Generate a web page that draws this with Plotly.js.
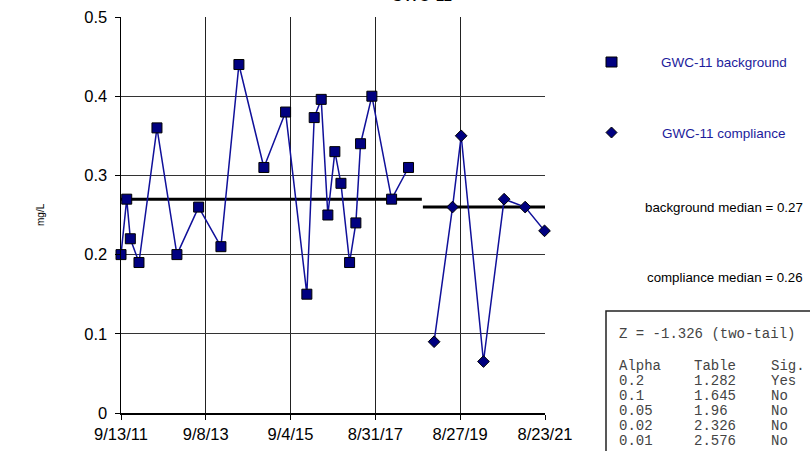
<!DOCTYPE html>
<html>
<head>
<meta charset="utf-8">
<script src="https://cdn.plot.ly/plotly-3.0.1.min.js"></script>
<style>html,body{margin:0;padding:0;background:#fff;}#chart{width:810px;height:451px;}</style>
</head>
<body>
<div id="chart"></div>
<script>
// ---- data ----
const chartTitle = 'GWC-11';
const bgName = 'GWC-11 background';
const cmpName = 'GWC-11 compliance';
const bgDates = ['2011-09-13','2011-11-01','2011-12-02','2012-02-14','2012-07-17','2013-01-04','2013-07-09','2014-01-16','2014-06-19','2015-01-19','2015-07-24','2016-01-22','2016-03-25','2016-05-24','2016-07-20','2016-09-18','2016-11-09','2017-01-22','2017-03-17','2017-04-26','2017-08-01','2018-01-17','2018-06-11'];
const bgValues = [0.2,0.27,0.22,0.19,0.36,0.2,0.26,0.21,0.44,0.31,0.38,0.15,0.373,0.396,0.25,0.33,0.29,0.19,0.24,0.34,0.40,0.27,0.31];
const cmpDates = ['2019-01-16','2019-06-23','2019-09-05','2020-03-14','2020-09-07','2021-03-06','2021-08-19'];
const cmpValues = [0.09,0.26,0.35,0.065,0.27,0.26,0.23];
const bgMedian = 0.27;
const cmpMedian = 0.26;
const bgMedianSpan = ['2011-09-13','2018-10-03'];
const cmpMedianSpan = ['2018-10-12','2021-08-23'];
const tickDates = ['2011-09-13','2013-09-08','2015-09-04','2017-08-31','2019-08-27','2021-08-23'];
const tickLabels = ['9/13/11','9/8/13','9/4/15','8/31/17','8/27/19','8/23/21'];
const yTicks = [0,0.1,0.2,0.3,0.4,0.5];
const yLabels = ['0','0.1','0.2','0.3','0.4','0.5'];
const yTitle = 'mg/L';
const bgMedianText = 'background median = 0.27';
const cmpMedianText = 'compliance median = 0.26';
const zText = 'Z = -1.326 (two-tail)';
const statsHeader = ['Alpha','Table','Sig.'];
const alphaVals = ['0.2','0.1','0.05','0.02','0.01'];
const tableVals = ['1.282','1.645','1.96','2.326','2.576'];
const sigVals = ['Yes','No','No','No','No'];

// ---- layout helpers (pixel -> paper) ----
const L = 121, R = 545, T = 17, B = 413, W = 810, H = 451;
const px = p => (p - L) / (R - L);
const py = p => (B - p) / (B - T);

const navy = '#000080';
const lineBlue = '#10109a';

const traces = [
  {x: bgMedianSpan, y: [bgMedian, bgMedian], type: 'scatter', mode: 'lines',
   line: {color: '#000', width: 3}, showlegend: false, hoverinfo: 'skip', cliponaxis: false},
  {x: cmpMedianSpan, y: [cmpMedian, cmpMedian], type: 'scatter', mode: 'lines',
   line: {color: '#000', width: 3}, showlegend: false, hoverinfo: 'skip', cliponaxis: false},
  {x: bgDates, y: bgValues, type: 'scatter', mode: 'lines+markers', name: bgName,
   line: {color: lineBlue, width: 1.5},
   marker: {symbol: 'square', size: 10, color: navy, line: {color: '#000', width: 1}},
   cliponaxis: false, showlegend: false},
  {x: cmpDates, y: cmpValues, type: 'scatter', mode: 'lines+markers', name: cmpName,
   line: {color: lineBlue, width: 1.5},
   marker: {symbol: 'diamond', size: 9, color: navy, line: {color: '#000', width: 1}},
   cliponaxis: false, showlegend: false}
];

const font = 'Arial, "Liberation Sans", sans-serif';
const mono = '"Liberation Mono", "DejaVu Sans Mono", monospace';

const annotations = [
  {text: chartTitle, x: px(421), y: py(6), xref: 'paper', yref: 'paper', xanchor: 'center', yanchor: 'bottom',
   showarrow: false, font: {family: font, size: 16, color: '#000'}},
  {text: yTitle, x: px(40), y: py(215), xref: 'paper', yref: 'paper', xanchor: 'center', yanchor: 'middle',
   textangle: -90, showarrow: false, font: {family: font, size: 10, color: '#000'}},
  {text: bgName, x: px(659), y: py(62), xref: 'paper', yref: 'paper', xanchor: 'left', yanchor: 'middle',
   showarrow: false, font: {family: font, size: 13.5, color: '#1c1c9c'}},
  {text: cmpName, x: px(660), y: py(133), xref: 'paper', yref: 'paper', xanchor: 'left', yanchor: 'middle',
   showarrow: false, font: {family: font, size: 13.5, color: '#1c1c9c'}},
  {text: bgMedianText, x: px(805), y: py(207), xref: 'paper', yref: 'paper', xanchor: 'right', yanchor: 'middle',
   showarrow: false, font: {family: font, size: 13.3, color: '#000'}},
  {text: cmpMedianText, x: px(805), y: py(277), xref: 'paper', yref: 'paper', xanchor: 'right', yanchor: 'middle',
   showarrow: false, font: {family: font, size: 13.3, color: '#000'}},
  {text: zText, x: px(617), y: py(334), xref: 'paper', yref: 'paper', xanchor: 'left', yanchor: 'middle',
   showarrow: false, font: {family: mono, size: 14, color: '#444'}}
];
const colX = [617, 692, 769];
const rowY0 = 366, rowStep = 15;
const rows = [statsHeader].concat(alphaVals.map((a, i) => [a, tableVals[i], sigVals[i]]));
rows.forEach((r, i) => r.forEach((t, j) => annotations.push({
  text: t, x: px(colX[j]), y: py(rowY0 + i * rowStep), xref: 'paper', yref: 'paper',
  xanchor: 'left', yanchor: 'middle', showarrow: false, font: {family: mono, size: 14, color: '#444'}
})));

const shapes = [
  {type: 'rect', xref: 'paper', yref: 'paper', x0: px(606), x1: px(606 + 11), y0: py(57), y1: py(67),
   fillcolor: navy, line: {color: '#000', width: 1}},
  {type: 'path', xref: 'paper', yref: 'paper',
   path: `M ${px(611.5)} ${py(127)} L ${px(617)} ${py(132.5)} L ${px(611.5)} ${py(138)} L ${px(606)} ${py(132.5)} Z`,
   fillcolor: navy, line: {color: '#000', width: 1}},
  {type: 'rect', xref: 'paper', yref: 'paper', x0: px(606), x1: px(830), y0: py(311), y1: py(470),
   fillcolor: 'rgba(0,0,0,0)', line: {color: '#222', width: 1.5}}
];

const layout = {
  width: W, height: H,
  margin: {l: L, r: W - R, t: T, b: H - B, pad: 0},
  paper_bgcolor: '#fff', plot_bgcolor: '#fff',
  showlegend: false,
  font: {family: font, size: 13.3, color: '#000'},
  xaxis: {type: 'date', range: [tickDates[0], tickDates[tickDates.length - 1]],
    tickmode: 'array', tickvals: tickDates, ticktext: tickLabels,
    showgrid: true, gridcolor: '#222', gridwidth: 1,
    showline: true, linecolor: '#000', linewidth: 1.5,
    ticks: 'outside', ticklen: 5, tickcolor: '#000', tickwidth: 1, ticklabelstandoff: 1,
    zeroline: false, tickfont: {family: font, size: 16.5, color: '#000'}, fixedrange: true},
  yaxis: {range: [0, 0.5], tickmode: 'array', tickvals: yTicks, ticktext: yLabels,
    showgrid: true, gridcolor: '#333', gridwidth: 1,
    showline: true, linecolor: '#000', linewidth: 1.5,
    ticks: 'outside', ticklen: 5, tickcolor: '#000', tickwidth: 1, ticklabelstandoff: 4,
    zeroline: false, tickfont: {family: font, size: 16.5, color: '#000'}, fixedrange: true},
  annotations: annotations,
  shapes: shapes
};

Plotly.newPlot('chart', traces, layout, {displayModeBar: false, staticPlot: true});
</script>
</body>
</html>
